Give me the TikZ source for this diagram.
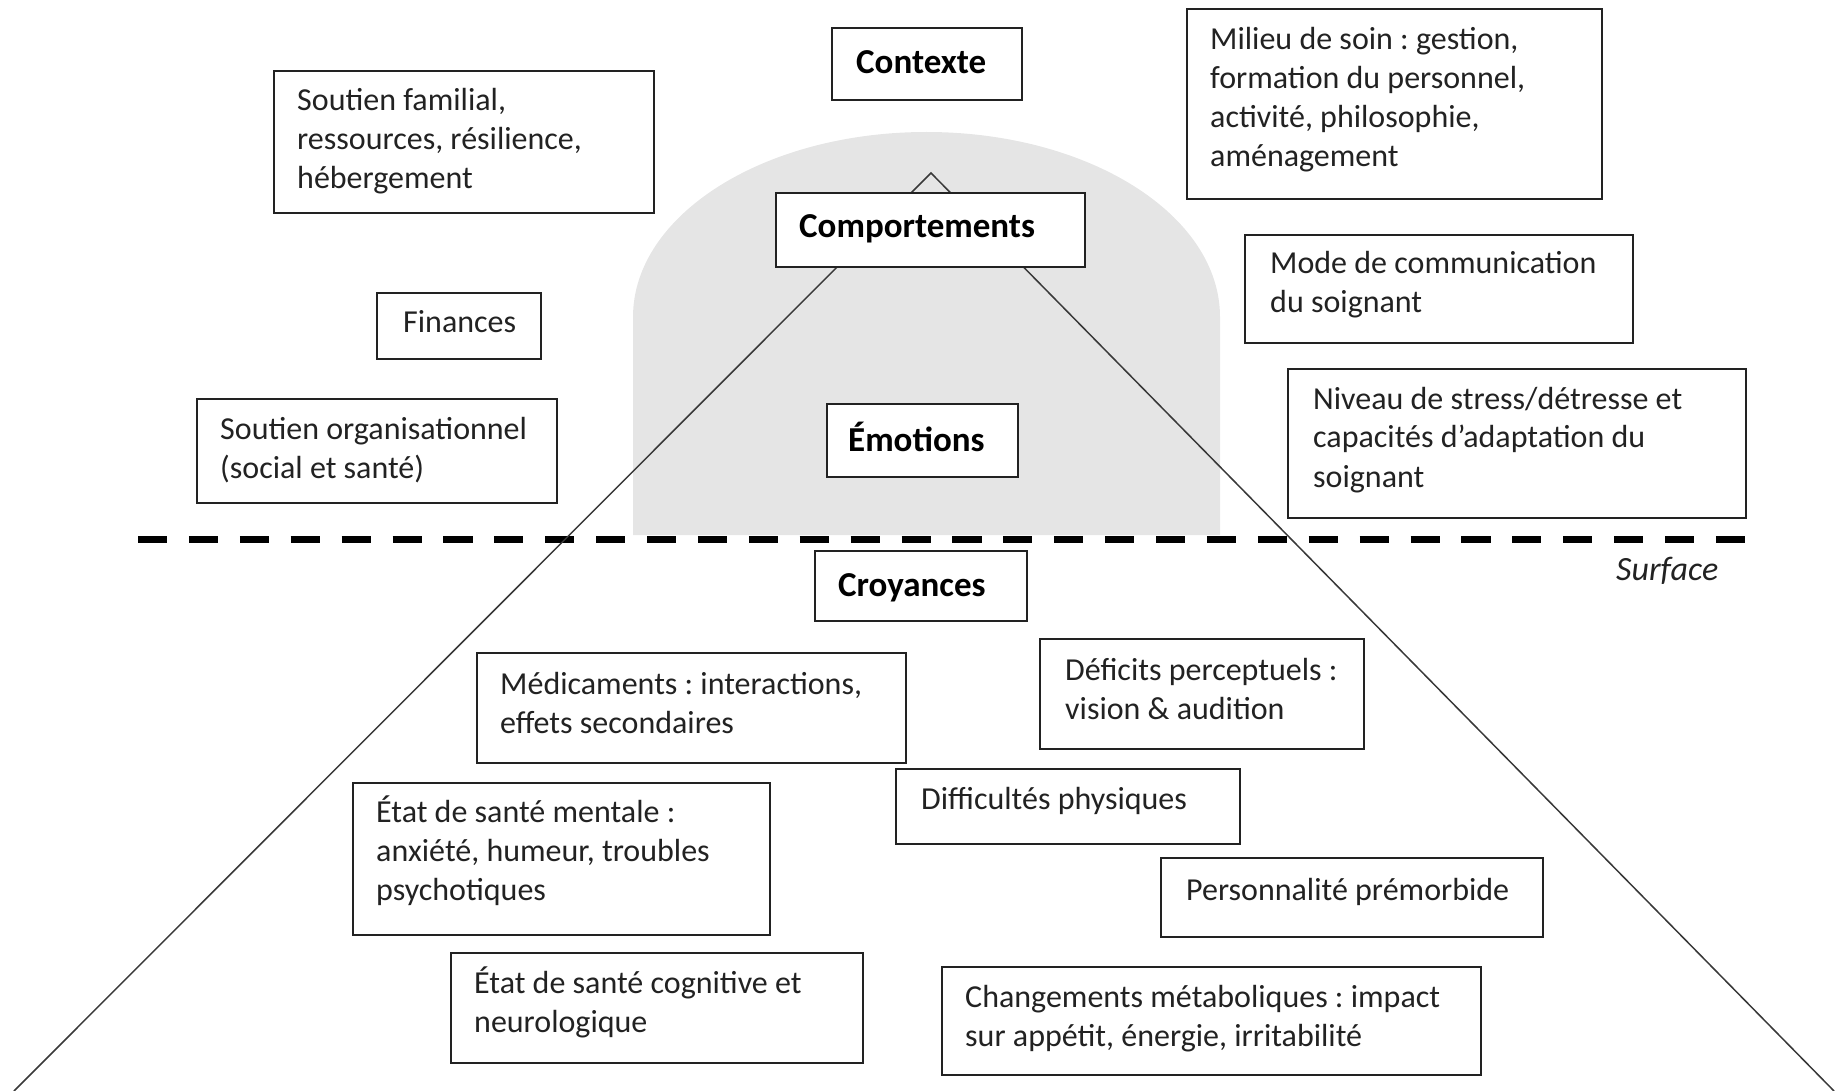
\documentclass[tikz,border=0pt]{standalone}
\usepackage{fontspec}
\setmainfont{Carlito}
\usetikzlibrary{calc}
\frenchspacing
\definecolor{inkc}{RGB}{34,34,34}
\definecolor{archgrey}{RGB}{229,229,229}
\newcommand{\regsize}{\fontsize{32}{39}\selectfont}
\newcommand{\headsize}{\fontsize{35}{42}\selectfont\bfseries}
\newcommand{\lines}[1]{\begin{tabular}[t]{@{}l@{}}#1\end{tabular}}

\begin{document}
\begin{tikzpicture}[x=1pt,y=-1pt,
  panel/.style={draw=inkc, line width=2.2pt, fill=white, anchor=north west,
                inner sep=0pt, outer sep=0pt},
  bodylbl/.style={anchor=base west, inner sep=0pt, text=inkc, font=\regsize},
  headlbl/.style={anchor=base west, inner sep=0pt, text=black, font=\headsize},
  surflbl/.style={anchor=base west, inner sep=0pt, text=inkc,
                  font=\fontsize{34}{40}\selectfont\itshape},
  slope/.style={draw=inkc!90, line width=1.5pt},
  surfaceline/.style={draw=black, line width=7pt, dash pattern=on 29.1pt off 21.8pt}
]
\useasboundingbox (0,0) rectangle (1837,1091);

% grey dome behind the visible layer
\fill[archgrey] (633,535) -- (633,317)
  .. controls (633,214.8) and (764.4,132) .. (926.5,132)
  .. controls (1088.6,132) and (1220,214.8) .. (1220,317)
  -- (1220,535) -- cycle;

% surface line
\coordinate (s1) at (138,539);
\coordinate (s2) at (1746,539);
\draw[surfaceline] (s1) -- (s2);
\node[surflbl] (surf) at (1616,580) {Surface};

% sides of the iceberg
\coordinate (apex) at (931,173);
\coordinate (lfoot) at (14,1091);
\coordinate (rfoot) at (1834,1091);
\draw[slope] (lfoot) -- (apex) -- (rfoot);

% boxes
\node[panel, minimum width=190pt, minimum height=72pt]  (ctx)  at (832,28)  {};
\node[panel, minimum width=380pt, minimum height=142pt] (fam)  at (274,71)  {};
\node[panel, minimum width=415pt, minimum height=190pt] (mil)  at (1187,9)  {};
\node[panel, minimum width=309pt, minimum height=74pt]  (comp) at (776,193) {};
\node[panel, minimum width=164pt, minimum height=66pt]  (fin)  at (377,293) {};
\node[panel, minimum width=388pt, minimum height=108pt] (comm) at (1245,235) {};
\node[panel, minimum width=191pt, minimum height=73pt]  (emo)  at (827,404) {};
\node[panel, minimum width=360pt, minimum height=104pt] (org)  at (197,399) {};
\node[panel, minimum width=458pt, minimum height=149pt] (stre) at (1288,369) {};
\node[panel, minimum width=212pt, minimum height=70pt]  (croy) at (815,551) {};
\node[panel, minimum width=429pt, minimum height=110pt] (med)  at (477,653) {};
\node[panel, minimum width=324pt, minimum height=110pt] (perc) at (1040,639) {};
\node[panel, minimum width=344pt, minimum height=75pt]  (phys) at (896,769) {};
\node[panel, minimum width=417pt, minimum height=152pt] (ment) at (353,783) {};
\node[panel, minimum width=382pt, minimum height=79pt]  (pers) at (1161,858) {};
\node[panel, minimum width=412pt, minimum height=110pt] (cogn) at (451,953) {};
\node[panel, minimum width=539pt, minimum height=108pt] (meta) at (942,967) {};

% texts
\node[headlbl] (tctx)  at ($(ctx.north west)+(24,46)$)  {Contexte};
\node[headlbl] (tcomp) at ($(comp.north west)+(23,45)$) {Comportements};
\node[headlbl] (temo)  at ($(emo.north west)+(21,47)$)  {Émotions};
\node[headlbl] (tcroy) at ($(croy.north west)+(23,45)$) {Croyances};

\node[bodylbl] (tfam)  at ($(fam.north west)+(23,40)$)
  {\lines{Soutien familial,\\ ressources, résilience,\\ hébergement}};
\node[bodylbl] (tmil)  at ($(mil.north west)+(23,41)$)
  {\lines{Milieu de soin : gestion,\\ formation du personnel,\\ activité, philosophie,\\ aménagement}};
\node[bodylbl] (tfin)  at ($(fin.north west)+(26,40)$)  {Finances};
\node[bodylbl] (tcomm) at ($(comm.north west)+(25,39)$)
  {\lines{Mode de communication\\ du soignant}};
\node[bodylbl] (torg)  at ($(org.north west)+(23,40)$)
  {\lines{Soutien organisationnel\\ (social et santé)}};
\node[bodylbl] (tstre) at ($(stre.north west)+(25,40)$)
  {\lines{Niveau de stress/détresse et\\ capacités d’adaptation du\\ soignant}};
\node[bodylbl] (tmed)  at ($(med.north west)+(23,41)$)
  {\lines{Médicaments : interactions,\\ effets secondaires}};
\node[bodylbl] (tperc) at ($(perc.north west)+(25,41)$)
  {\lines{Déficits perceptuels :\\ vision \& audition}};
\node[bodylbl] (tphys) at ($(phys.north west)+(25,40)$) {Difficultés physiques};
\node[bodylbl] (tment) at ($(ment.north west)+(23,39)$)
  {\lines{État de santé mentale :\\ anxiété, humeur, troubles\\ psychotiques}};
\node[bodylbl] (tpers) at ($(pers.north west)+(25,42)$) {Personnalité prémorbide};
\node[bodylbl] (tcogn) at ($(cogn.north west)+(23,40)$)
  {\lines{État de santé cognitive et\\ neurologique}};
\node[bodylbl] (tmeta) at ($(meta.north west)+(23,40)$)
  {\lines{Changements métaboliques : impact\\ sur appétit, énergie, irritabilité}};
\end{tikzpicture}
\end{document}
